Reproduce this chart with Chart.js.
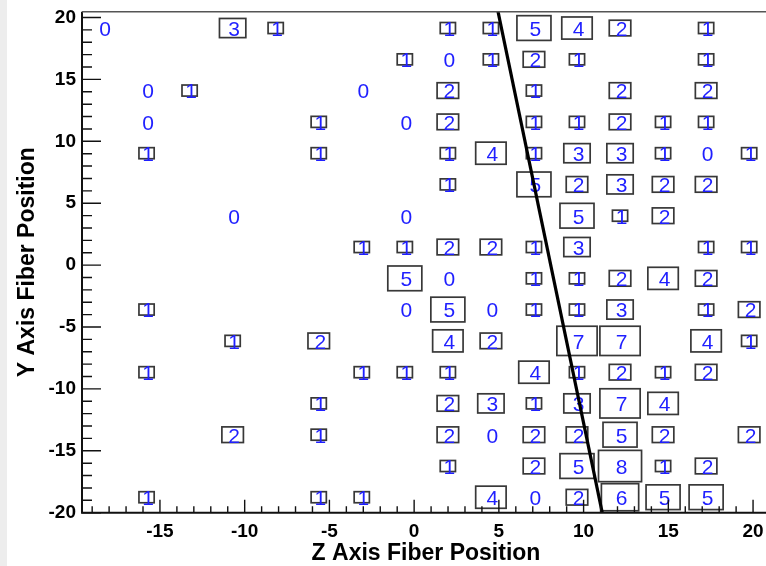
<!DOCTYPE html>
<html>
<head>
<meta charset="utf-8">
<script src="https://cdn.jsdelivr.net/npm/chart.js@4.4.1/dist/chart.umd.min.js"></script>
<style>
  html, body { margin: 0; padding: 0; background: #fff; overflow: hidden; }
  #wrap { position: relative; width: 772px; height: 566px; }
  #edge { position: absolute; left: 0; top: 0; width: 7px; height: 566px; background: #ededed; }
  canvas { position: absolute; left: 0; top: 0; }
</style>
</head>
<body>
<div id="wrap">
  <div id="edge"></div>
  <canvas id="c" width="772" height="566"></canvas>
</div>
<script>
// Fiber bin centres (2.54 mm pitch) along Z and Y
const zCenters = [-18.33, -15.79, -13.25, -10.71, -8.17, -5.63, -3.09, -0.55,
                  1.99, 4.53, 7.07, 9.61, 12.15, 14.69, 17.23, 19.77];
const yCenters = [19.15, 16.62, 14.10, 11.57, 9.04, 6.52, 3.99, 1.46,
                  -1.07, -3.59, -6.12, -8.65, -11.17, -13.70, -16.23, -18.75];
const zBinWidth = 2.54;
const yBinWidth = 2.527;

// Hit counts per cell, one row per Y bin (top to bottom), null = empty cell
const counts = [
  [0, null, null, 3, 1, null, null, null, 1, 1, 5, 4, 2, null, 1, null],
  [null, null, null, null, null, null, null, 1, 0, 1, 2, 1, null, null, 1, null],
  [null, 0, 1, null, null, null, 0, null, 2, null, 1, null, 2, null, 2, null],
  [null, 0, null, null, null, 1, null, 0, 2, null, 1, 1, 2, 1, 1, null],
  [null, 1, null, null, null, 1, null, null, 1, 4, 1, 3, 3, 1, 0, 1],
  [null, null, null, null, null, null, null, null, 1, null, 5, 2, 3, 2, 2, null],
  [null, null, null, 0, null, null, null, 0, null, null, null, 5, 1, 2, null, null],
  [null, null, null, null, null, null, 1, 1, 2, 2, 1, 3, null, null, 1, 1],
  [null, null, null, null, null, null, null, 5, 0, null, 1, 1, 2, 4, 2, null],
  [null, 1, null, null, null, null, null, 0, 5, 0, 1, 1, 3, null, 1, 2],
  [null, null, null, 1, null, 2, null, null, 4, 2, null, 7, 7, null, 4, 1],
  [null, 1, null, null, null, null, 1, 1, 1, null, 4, 1, 2, 1, 2, null],
  [null, null, null, null, null, 1, null, null, 2, 3, 1, 3, 7, 4, null, null],
  [null, null, null, 2, null, 1, null, null, 2, 0, 2, 2, 5, 2, null, 2],
  [null, null, null, null, null, null, null, null, 1, null, 2, 5, 8, 1, 2, null],
  [null, 1, null, null, null, 1, 1, null, null, 4, 0, 2, 6, 5, 5, null]
];

// Axis ranges and labelled ticks
const zRange = [-19.6, 21.0];
const yRange = [-20, 20.47];
const zMajorTicks = [-15, -10, -5, 0, 5, 10, 15, 20];
const yMajorTicks = [-20, -15, -10, -5, 0, 5, 10, 15, 20];

// Straight track fit drawn across the fiber map
const fitZ = [4.95, 11.1];
const fitY = [20.47, -20];

// Flatten the grid into points for the scatter dataset
const cells = [];
counts.forEach((row, r) => {
  row.forEach((v, c) => {
    if (v !== null) cells.push({ x: zCenters[c], y: yCenters[r], v: v });
  });
});
const maxCount = Math.max(...cells.map(p => p.v));

const FONT = "'Liberation Sans', Arial, Helvetica, sans-serif";

// Boxes (area proportional to count) with the count written on top
const boxTextPlugin = {
  id: 'boxText',
  afterDatasetDraw(chart, args) {
    if (args.index !== 1) return;
    const { ctx, scales: { x, y } } = chart;
    const meta = chart.getDatasetMeta(1);
    ctx.save();
    meta.data.forEach((el, i) => {
      const p = cells[i];
      const cx = el.x, cy = el.y;
      const wBin = Math.abs(x.getPixelForValue(p.x + zBinWidth / 2) - x.getPixelForValue(p.x - zBinWidth / 2));
      const hBin = Math.abs(y.getPixelForValue(p.y + yBinWidth / 2) - y.getPixelForValue(p.y - yBinWidth / 2));
      const f = Math.sqrt(p.v / maxCount);
      if (f > 0) {
        const w = wBin * f, h = hBin * f;
        ctx.lineWidth = 1.7;
        ctx.strokeStyle = '#383838';
        ctx.strokeRect(cx - w / 2, cy - h / 2, w, h);
      }
      ctx.fillStyle = '#1f1fff';
      ctx.font = '21px ' + FONT;
      ctx.textAlign = 'center';
      ctx.textBaseline = 'middle';
      ctx.fillText(String(p.v), cx + 1.5, cy + 2);
    });
    ctx.restore();
  }
};

// Frame and inward-pointing major/minor ticks
const frameTicksPlugin = {
  id: 'frameTicks',
  afterDraw(chart) {
    const { ctx, chartArea: a, scales: { x, y } } = chart;
    ctx.save();
    ctx.strokeStyle = '#111';
    ctx.lineWidth = 1.4;
    ctx.beginPath();
    x.ticks.forEach(t => {
      const px = x.getPixelForValue(t.value);
      const len = (t.value % 5 === 0) ? 13 : 6.5;
      ctx.moveTo(px, a.bottom);
      ctx.lineTo(px, a.bottom - len);
    });
    y.ticks.forEach(t => {
      const py = y.getPixelForValue(t.value);
      const len = (t.value % 5 === 0) ? 19 : 10;
      ctx.moveTo(a.left, py);
      ctx.lineTo(a.left + len, py);
    });
    ctx.stroke();
    ctx.lineWidth = 2;
    ctx.strokeStyle = '#111';
    ctx.beginPath();
    ctx.moveTo(a.left, a.top);
    ctx.lineTo(a.left, a.bottom);
    ctx.lineTo(a.right, a.bottom);
    ctx.stroke();
    ctx.strokeStyle = '#555';
    ctx.lineWidth = 1.6;
    ctx.beginPath();
    ctx.moveTo(a.left, a.top);
    ctx.lineTo(a.right, a.top);
    ctx.lineTo(a.right, a.bottom);
    ctx.stroke();
    ctx.restore();
  }
};

function unitTicks(lo, hi) {
  const out = [];
  for (let v = Math.ceil(lo); v <= Math.floor(hi); v++) out.push({ value: v });
  return out;
}

new Chart(document.getElementById('c'), {
  data: {
    datasets: [
      {
        type: 'line',
        data: fitZ.map((z, i) => ({ x: z, y: fitY[i] })),
        borderColor: '#000',
        borderWidth: 3.2,
        pointRadius: 0,
        fill: false
      },
      {
        type: 'scatter',
        data: cells,
        pointRadius: 0,
        pointHoverRadius: 0
      }
    ]
  },
  options: {
    responsive: false,
    animation: false,
    events: [],
    layout: { padding: { top: 11.7, right: 2, bottom: 0, left: 0 } },
    plugins: { legend: { display: false }, tooltip: { enabled: false } },
    scales: {
      x: {
        type: 'linear',
        min: zRange[0],
        max: zRange[1],
        afterBuildTicks: s => { s.ticks = unitTicks(zRange[0], zRange[1]); },
        afterFit: s => { s.height = 53.3; s.paddingLeft = 0; s.paddingRight = 0; },
        grid: { display: false, drawTicks: false },
        border: { display: false },
        ticks: {
          autoSkip: false,
          maxRotation: 0,
          padding: 8,
          color: '#000',
          font: { family: FONT, size: 19, weight: 'bold' },
          callback: v => zMajorTicks.includes(v) ? String(v) : ''
        },
        title: {
          display: true,
          text: 'Z Axis Fiber Position',
          color: '#000',
          font: { family: FONT, size: 23, weight: 'bold', lineHeight: 1.0 },
          padding: { top: 0, bottom: 1 }
        }
      },
      y: {
        type: 'linear',
        min: yRange[0],
        max: yRange[1],
        afterBuildTicks: s => { s.ticks = unitTicks(yRange[0], yRange[1]); },
        afterFit: s => { s.width = 82; s.paddingTop = 0; s.paddingBottom = 0; },
        grid: { display: false, drawTicks: false },
        border: { display: false },
        ticks: {
          autoSkip: false,
          padding: 6,
          color: '#000',
          font: { family: FONT, size: 19, weight: 'bold' },
          callback: v => yMajorTicks.includes(v) ? String(v) : ''
        },
        title: {
          display: true,
          text: 'Y Axis Fiber Position',
          color: '#000',
          font: { family: FONT, size: 23, weight: 'bold', lineHeight: 1.0 },
          padding: { top: 16, bottom: 0 }
        }
      }
    }
  },
  plugins: [boxTextPlugin, frameTicksPlugin]
});
</script>
</body>
</html>
